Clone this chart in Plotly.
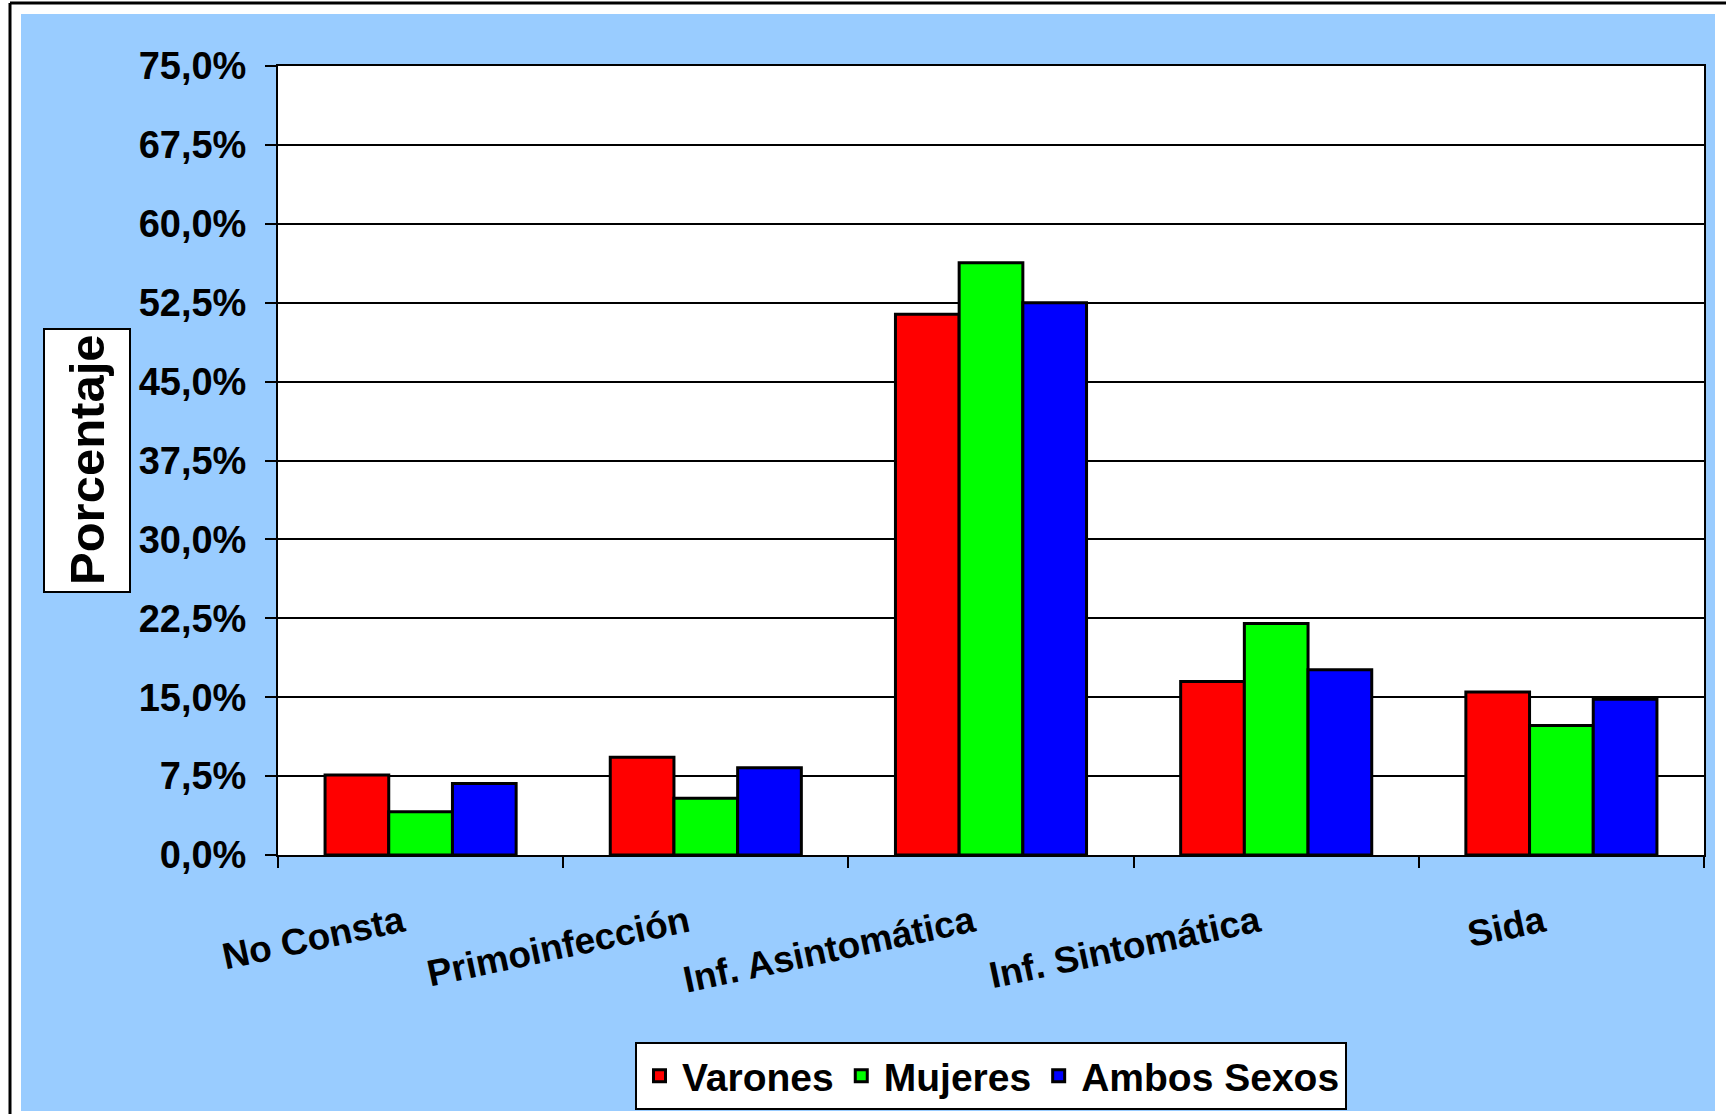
import plotly.graph_objects as go

# categories and series (percent)
categorias = ["No Consta", "Primoinfección", "Inf. Asintomática", "Inf. Sintomática", "Sida"]
varones = [7.6, 9.3, 51.4, 16.5, 15.5]
mujeres = [4.1, 5.4, 56.3, 22.0, 12.3]
ambos_sexos = [6.8, 8.3, 52.5, 17.6, 14.8]

FONT = "Liberation Sans, Arial, sans-serif"
BLUE_BG = "#99CCFF"

# page geometry (pixels)
W, H = 1726, 1114
L, R, T, B = 278, 22, 66, 259
PW, PH = W - L - R, H - T - B


def px(x):
    return (x - L) / PW


def py(y):
    return (H - B - y) / PH


fig = go.Figure()
for name, vals, color in [
    ("Varones", varones, "#FF0000"),
    ("Mujeres", mujeres, "#00FF00"),
    ("Ambos Sexos", ambos_sexos, "#0000FF"),
]:
    fig.add_trace(go.Bar(
        name=name, x=categorias, y=vals,
        marker=dict(color=color, line=dict(color="black", width=3)),
    ))

fig.update_layout(
    width=W, height=H,
    margin=dict(l=L, r=R, t=T, b=B, autoexpand=False),
    paper_bgcolor=BLUE_BG,
    plot_bgcolor="white",
    separators=",.",
    barmode="group",
    bargap=0.33,
    bargroupgap=0,
    font=dict(family=FONT, size=37, color="black", weight="bold"),
    legend=dict(
        orientation="h", x=0.5, xanchor="center", y=py(1042), yanchor="top",
        bgcolor="white", bordercolor="black", borderwidth=2,
        font=dict(family=FONT, size=39, color="black", weight="bold"),
        itemwidth=35, traceorder="normal",
    ),
)

fig.update_yaxes(
    range=[0, 75], dtick=7.5, tick0=0, tickformat=".1f", ticksuffix="%",
    showgrid=True, gridcolor="black", gridwidth=1.5,
    showline=True, linecolor="black", linewidth=2, mirror=True,
    ticks="outside", ticklen=11, tickwidth=2, tickcolor="black",
    ticklabelstandoff=11,
    tickfont=dict(family=FONT, size=38, color="black", weight="bold"),
    zeroline=False,
)
fig.update_xaxes(
    showline=True, linecolor="black", linewidth=2, mirror=True,
    ticks="outside", ticklen=11, tickwidth=2, tickcolor="black",
    tickson="boundaries", tickangle=-12,
    ticklabelstandoff=30, ticklabelshift=-18,
    tickfont=dict(family=FONT, size=37, color="black", weight="bold"),
)

# y axis title in a framed box
fig.add_shape(type="rect", xref="paper", yref="paper",
              x0=px(44), x1=px(130), y0=py(329), y1=py(592),
              fillcolor="white", line=dict(color="black", width=2), layer="above")
fig.add_annotation(
    text="Porcentaje", textangle=-90, xref="paper", yref="paper",
    x=px(87), y=py(459), xanchor="center", yanchor="middle", showarrow=False,
    font=dict(family=FONT, size=49, color="black", weight="bold"),
)

# white margin strips around the blue area, and outer frame lines
strips = [
    (0, 0, 21, H), (0, 0, W, 14), (1715, 0, W, H), (0, 1111, W, H),
]
for x0, y0, x1, y1 in strips:
    fig.add_shape(type="rect", xref="paper", yref="paper",
                  x0=px(x0), x1=px(x1), y0=py(y0), y1=py(y1),
                  fillcolor="white", line=dict(width=0), layer="above")
fig.add_shape(type="line", xref="paper", yref="paper",
              x0=px(10), x1=px(10), y0=py(3), y1=py(H),
              line=dict(color="black", width=3))
fig.add_shape(type="line", xref="paper", yref="paper",
              x0=px(10), x1=px(W), y0=py(3), y1=py(3),
              line=dict(color="black", width=3))

# page body has a default 8px margin; drop it so the figure sits at the window origin
fig.write_html(
    "out.html",
    config={"displayModeBar": False},
    post_script="document.body.style.margin = '0';",
)
